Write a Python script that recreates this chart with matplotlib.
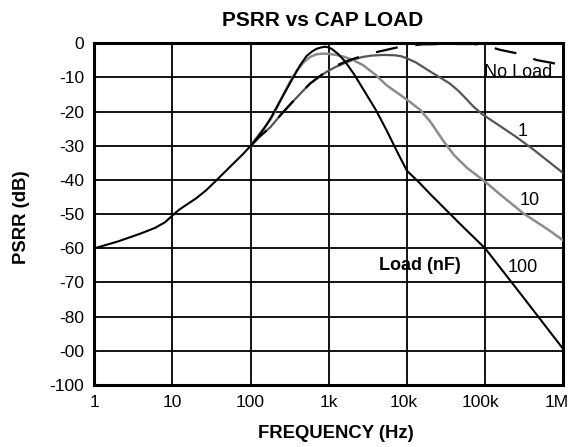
import matplotlib
matplotlib.use("Agg")
import matplotlib.pyplot as plt
from matplotlib.ticker import FixedLocator, FixedFormatter, NullLocator
from matplotlib.transforms import ScaledTranslation

plt.rcParams['font.family'] = ['Liberation Sans', 'DejaVu Sans']

# frequency (Hz) / PSRR (dB)
f_100 = [1, 2, 4, 6, 8, 10, 12, 15, 20, 27, 35, 47, 60, 80, 100, 125, 150, 185, 220,
         280, 350, 430, 520, 610, 700, 800, 900, 1000, 1100, 1300, 1600, 2100, 3000,
         4000, 5500, 7600, 10000, 14000, 20000, 50000, 100000, 300000, 1000000]
db_100 = [-60, -58, -55.6, -54, -52.4, -50.4, -48.8, -47.3, -45.4, -43, -40.5, -37.6,
          -35.2, -32.4, -30, -27.3, -24.8, -21.5, -18.3, -14, -10, -6.4, -3.7, -2.4,
          -1.6, -1.2, -1, -1.2, -1.7, -3, -5.2, -9, -14.8, -19.5, -25.5, -32, -37.3,
          -40.5, -44.2, -53.3, -60, -74, -89.5]

f_10 = [100, 130, 178, 220, 263, 320, 390, 480, 575, 700, 850, 1000, 1250, 1550, 2000,
        2750, 4000, 5500, 8100, 11000, 14800, 20000, 29500, 40000, 59000, 95000, 155000,
        310000, 620000, 1000000]
db_10 = [-30, -26.5, -22.5, -18.6, -14.9, -11.2, -8, -5.5, -4, -3.2, -3, -3.1, -3.4,
         -3.9, -4.8, -6.4, -9.3, -12.3, -15, -17.2, -19.5, -23, -28.7, -32.7, -36.5,
         -40.1, -44.2, -49.8, -54.3, -57.7]

f_1 = [100, 130, 178, 250, 355, 460, 575, 750, 930, 1200, 1550, 2100, 2700, 3500, 5000,
       7000, 8500, 10000, 13000, 16000, 20000, 26000, 35000, 45000, 57000, 70000, 90000,
       155000, 250000, 410000, 1000000]
db_1 = [-30, -27.3, -24.6, -20.6, -16.8, -14.1, -11.8, -9.8, -8.4, -7, -5.9, -4.7, -4,
        -3.6, -3.4, -3.5, -3.8, -4.4, -5.6, -6.9, -8.3, -9.9, -11.7, -13.8, -16.2, -18.4,
        -20.6, -24.2, -27.4, -31, -38]

f_noload = [100, 130, 178, 250, 355, 460, 575, 750, 930, 1200, 1740, 2300, 3090, 4200,
            5500, 7500, 10000, 15850, 31600, 70800, 100000, 155000, 251000, 457000,
            741000, 1000000]
db_noload = [-30, -27.3, -24.6, -20.6, -16.8, -14.1, -11.8, -9.8, -8.2, -6.7, -5.1, -4.2,
             -3.3, -2.5, -1.9, -1.2, -0.7, -0.3, -0.2, -0.2, -0.6, -1.9, -2.9, -4.9,
             -5.8, -6.5]

x_ticks = [1, 10, 100, 1e3, 1e4, 1e5, 1e6]
x_labels = ['1', '10', '100', '1k', '10k', '100k', '1M']
y_ticks = [0, -10, -20, -30, -40, -50, -60, -70, -80, -90, -100]
y_labels = ['0', '-10', '-20', '-30', '-40', '-50', '-60', '-70', '-80', '-00', '-100']

fig = plt.figure(figsize=(5.81, 4.47), dpi=100)
ax = fig.add_axes([0.1623, 0.1387, 0.8072, 0.7644])

ax.plot(f_1, db_1, color='#555555', lw=1.6, zorder=3)
ax.plot(f_10, db_10, color='#8c8c8c', lw=1.8, zorder=3)
ax.plot(f_noload, db_noload, color='black', lw=1.6, dashes=(10, 8), zorder=4)
ax.plot(f_100, db_100, color='black', lw=1.5, zorder=5)

ax.set_xscale('log')
ax.set_xlim(1, 1e6)
ax.set_ylim(-100, 0)
ax.xaxis.set_major_locator(FixedLocator(x_ticks))
ax.xaxis.set_major_formatter(FixedFormatter(x_labels))
ax.xaxis.set_minor_locator(NullLocator())
ax.yaxis.set_major_locator(FixedLocator(y_ticks))
ax.yaxis.set_major_formatter(FixedFormatter(y_labels))
ax.tick_params(length=0, labelsize=12.5, pad=7.5)
ax.grid(True, color='black', lw=1.3)
ax.set_axisbelow(True)
for s in ax.spines.values():
    s.set_linewidth(2.2)

# the right-most x labels sit a little left of their gridlines in the reference
fig.canvas.draw()
shifts = {'10k': -3, '100k': -5, '1M': -7}
for lab in ax.get_xticklabels():
    dx = shifts.get(lab.get_text(), 0)
    if dx:
        lab.set_transform(lab.get_transform() + ScaledTranslation(dx / 100, 0, fig.dpi_scale_trans))

# curve labels
ax.text(2.62e5, -8.5, 'No Load', fontsize=13, ha='center', va='center')
ax.text(3.03e5, -25.7, '1', fontsize=13, ha='center', va='center')
ax.text(3.73e5, -45.9, '10', fontsize=13, ha='center', va='center')
ax.text(3.03e5, -65.5, '100', fontsize=13, ha='center', va='center')
ax.text(1.47e4, -64.9, 'Load (nF)', fontsize=13, fontweight='bold', ha='center', va='center')

fig.text(323 / 581, 1 - 25.5 / 447, 'PSRR vs CAP LOAD', fontsize=15, fontweight='bold',
         ha='center', va='baseline')
fig.text(336 / 581, 1 - 434 / 447, 'FREQUENCY (Hz)', fontsize=13.3, fontweight='bold',
         ha='center', va='center')
fig.text(21.7 / 581, 1 - 217 / 447, 'PSRR (dB)', fontsize=13.3, fontweight='bold',
         ha='center', va='center', rotation=90)

fig.savefig('out.png', dpi=100)
